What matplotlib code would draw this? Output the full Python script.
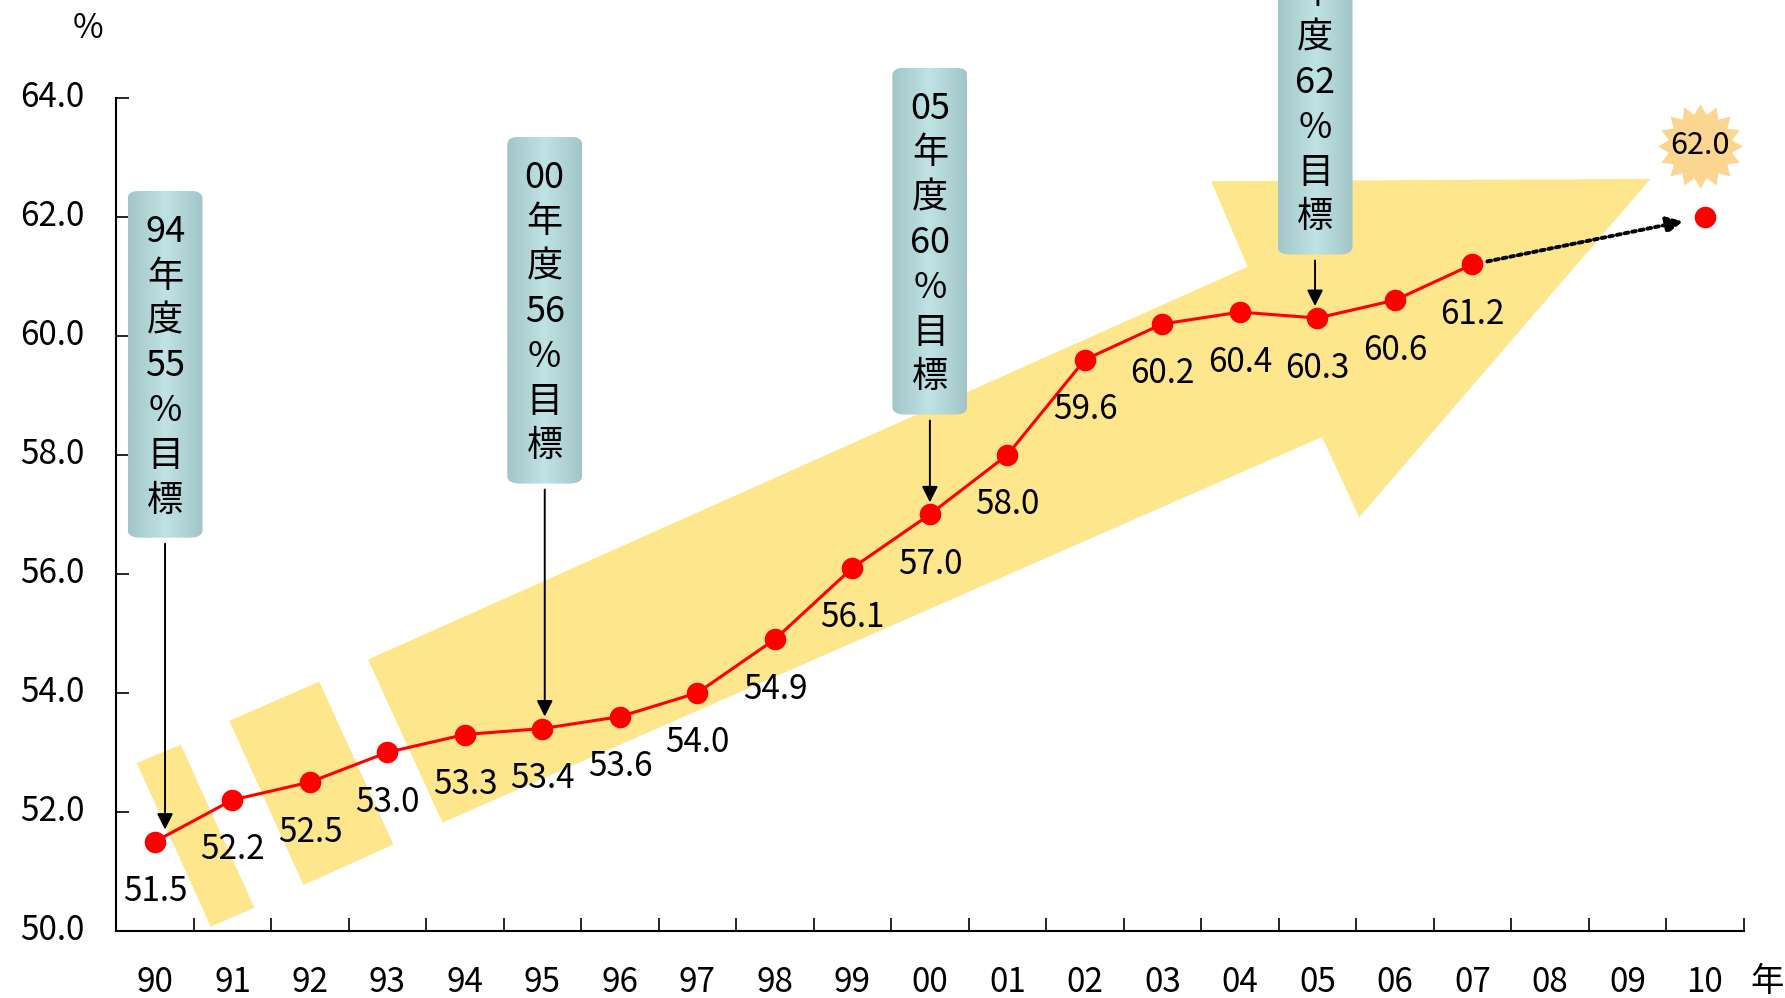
import re
import numpy as np
import matplotlib
matplotlib.use('Agg')
import matplotlib.pyplot as plt
from matplotlib.patches import Polygon, FancyBboxPatch
from matplotlib.path import Path

plt.rcParams['font.family'] = ['Noto Sans CJK JP', 'DejaVu Sans']

# data
years = ['90', '91', '92', '93', '94', '95', '96', '97', '98', '99', '00',
         '01', '02', '03', '04', '05', '06', '07', '08', '09', '10']
rate = [51.5, 52.2, 52.5, 53.0, 53.3, 53.4, 53.6, 54.0, 54.9, 56.1, 57.0,
        58.0, 59.6, 60.2, 60.4, 60.3, 60.6, 61.2]
target_year = '10'
target_rate = 62.0
goals = ['94年度55%目標', '00年度56%目標', '05年度60%目標', '10年度62%目標']
goal_year = ['90', '95', '00', '05']

# layout (not data)
goal_xoff = [0.13, 0.03, 0.0, -0.03]
goal_top = [62.44, 63.35, 64.51, 67.2]
W, H = 17.85, 9.98

fig = plt.figure(figsize=(W, H), dpi=100)
ax = fig.add_axes([0.0651, 0.0673, 0.9117, 0.8346])
ax.set_xlim(-0.5, len(years) - 0.5)
ax.set_ylim(50, 64)
ppx = W * 100 * 0.9117 / len(years)   # pixels per x unit
ppy = H * 100 * 0.8346 / 14           # pixels per y unit

# big yellow arrow (decoration)
yel = '#fee68c'
shaft = [(3.71, 51.82), (2.75, 54.56), (14.10, 61.16), (13.63, 62.60),
         (19.30, 62.64), (15.54, 56.95), (15.06, 58.30)]
seg1 = [(-0.235, 52.82), (0.333, 53.13), (1.283, 50.39), (0.72, 50.07)]
seg2 = [(0.96, 53.53), (2.12, 54.19), (3.077, 51.45), (1.915, 50.77)]
for poly in (shaft, seg1, seg2):
    ax.add_patch(Polygon(poly, closed=True, fc=yel, ec='none', zorder=1))

# main line
xs = np.arange(len(rate))
ax.plot(xs, rate, color='#ff0000', lw=2.2, marker='o', ms=14.5,
        mec='#ff0000', mfc='#ff0000', zorder=4)
xt = years.index(target_year)
ax.plot([xt], [target_rate], 'o', color='#ff0000', ms=14.5, zorder=4, clip_on=False)

for x, v in zip(xs, rate):
    ax.annotate(f'{v:.1f}', (x, v), xytext=(0, -36), textcoords='offset points',
                ha='center', va='center', fontsize=24, zorder=6)

# dotted arrow to target
ax.annotate('', xy=(xt, target_rate), xytext=(len(rate) - 1, rate[-1]),
            arrowprops=dict(arrowstyle='-|>', color='black', lw=2.8,
                            linestyle=(0, (1, 1)), shrinkA=11, shrinkB=16,
                            mutation_scale=24),
            zorder=5)

# starburst with target value
n = 16
ang = np.linspace(0, 2 * np.pi, 2 * n, endpoint=False) + np.pi / 2
rad = np.where(np.arange(2 * n) % 2 == 0, 1.0, 0.76)
verts = np.column_stack([rad * np.cos(ang), rad * np.sin(ang)])
verts = np.vstack([verts, verts[:1]])
codes = [Path.MOVETO] + [Path.LINETO] * (2 * n - 1) + [Path.CLOSEPOLY]
star = Path(verts, codes)
sy = target_rate + 71 / ppy
sx = xt - 5 / ppx
ax.scatter([sx], [sy], marker=star, s=61 ** 2, c='#fbd690', linewidths=0,
           zorder=5, clip_on=False)
ax.text(sx, sy, f'{target_rate:.1f}', ha='center', va='center',
        fontsize=22, zorder=6, clip_on=False)

# goal callouts
bw = 75 / ppx
bh = 347 / ppy
grad = np.linspace(0, 1, 64)
grad = 1 - np.abs(grad - 0.5) * 2
cmap = matplotlib.colors.LinearSegmentedColormap.from_list('t', ['#a2c5c8', '#bfe2e5'])
for g, yr, dx, top in zip(goals, goal_year, goal_xoff, goal_top):
    i = years.index(yr)
    cx = i + dx
    patch = FancyBboxPatch((cx - bw / 2, top - bh), bw, bh,
                           boxstyle=f'round,pad=0,rounding_size={13 / ppx}',
                           mutation_aspect=ppy / ppx, fc='none', ec='none',
                           zorder=5, clip_on=False, transform=ax.transData)
    ax.add_patch(patch)
    im = ax.imshow(grad[None, :], cmap=cmap, aspect='auto',
                   extent=(cx - bw / 2, cx + bw / 2, top - bh, top), zorder=5)
    im.set_clip_path(patch)
    im.set_clip_box(fig.bbox)
    tokens = re.findall(r'\d+|.', g)
    for k, t in enumerate(tokens):
        ax.text(cx, top - (41 + k * 44.8) / ppy, t, ha='center', va='center',
                fontsize=26, zorder=6, clip_on=False)
    ax.annotate('', xy=(cx, rate[i] + 12 / ppy), xytext=(cx, top - bh - 6 / ppy),
                arrowprops=dict(arrowstyle='-|>', color='black', lw=1.4,
                                shrinkA=0, shrinkB=0, mutation_scale=24),
                zorder=6)

ax.set_xlim(-0.5, len(years) - 0.5)
ax.set_ylim(50, 64)

# axes styling
for s in ('top', 'right'):
    ax.spines[s].set_visible(False)
for s in ('left', 'bottom'):
    ax.spines[s].set_linewidth(1.5)
    ax.spines[s].set_zorder(7)
ax.set_xticks(np.arange(-0.5, len(years), 1.0))
ax.set_xticklabels([])
ax.set_yticks(np.arange(50, 64.1, 2))
ax.set_yticklabels([])
ax.tick_params(direction='in', length=9.5, width=1.2)

for i, y in enumerate(years):
    ax.annotate(y, (i, 0), xycoords=('data', 'axes fraction'), xytext=(0, -37),
                textcoords='offset points', ha='center', va='center', fontsize=24)
for v in np.arange(50, 64.1, 2):
    ax.annotate(f'{v:.1f}', (0, v), xycoords=('axes fraction', 'data'),
                xytext=(-23, 0), textcoords='offset points', ha='right',
                va='center', fontsize=24)

fig.text(88 / 1785, 1 - 28 / 998, '%', ha='center', va='center', fontsize=24)
fig.text(1767 / 1785, 1 - 982 / 998, '年', ha='center', va='center', fontsize=24)

fig.savefig('out.png', dpi=100)
